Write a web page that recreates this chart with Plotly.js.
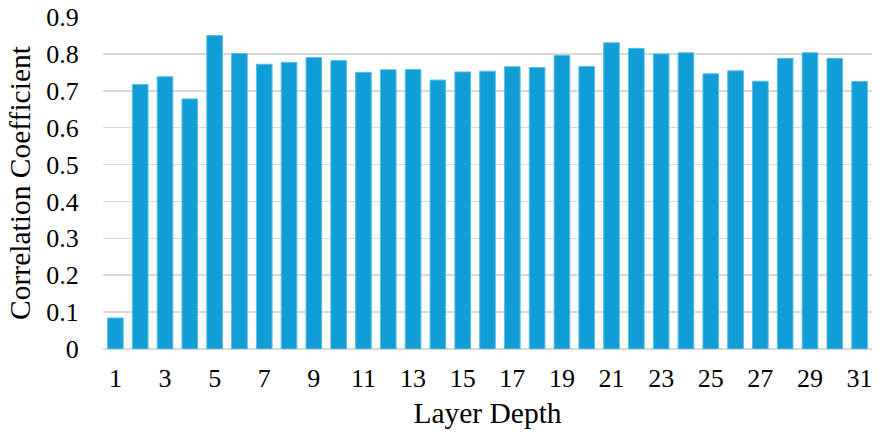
<!DOCTYPE html>
<html>
<head>
<meta charset="utf-8">
<script src="https://cdn.plot.ly/plotly-3.0.1.min.js"></script>
<style>html,body{margin:0;padding:0;background:#fff;}#chart{width:894px;height:444px;}</style>
</head>
<body>
<div id="chart"></div>
<script>
const layers = [1,2,3,4,5,6,7,8,9,10,11,12,13,14,15,16,17,18,19,20,21,22,23,24,25,26,27,28,29,30,31];
const correlation = [0.084,0.717,0.738,0.678,0.850,0.801,0.772,0.777,0.790,0.782,0.750,0.757,0.758,0.729,0.751,0.753,0.765,0.763,0.796,0.766,0.830,0.815,0.800,0.803,0.746,0.754,0.726,0.788,0.803,0.788,0.725];
const xTickVals = [1,3,5,7,9,11,13,15,17,19,21,23,25,27,29,31];
const yTickVals = [0,0.1,0.2,0.3,0.4,0.5,0.6,0.7,0.8,0.9];
const yTickText = ['0','0.1','0.2','0.3','0.4','0.5','0.6','0.7','0.8','0.9'];

const font = 'Liberation Serif';
Plotly.newPlot('chart', [{
  type: 'bar',
  x: layers,
  y: correlation,
  marker: {color: '#119ed6', line: {color: '#5bbde3', width: 1}},
  hoverinfo: 'skip'
}], {
  width: 894, height: 444,
  margin: {l: 103, r: 22, t: 16.5, b: 94.5},
  paper_bgcolor: '#fff', plot_bgcolor: '#fff',
  bargap: 0.37,
  showlegend: false,
  font: {family: font, color: '#000', size: 24},
  xaxis: {
    range: [0.5, 31.5],
    tickmode: 'array', tickvals: xTickVals, ticktext: xTickVals.map(String),
    showgrid: false, zeroline: false, showline: false,
    ticks: 'outside', ticklen: 6, tickcolor: 'rgba(0,0,0,0)',
    tickfont: {family: font, size: 26, color: '#000'},
    title: {text: 'Layer Depth', font: {family: font, size: 29.5, color: '#000'}, standoff: 10}
  },
  yaxis: {
    range: [0, 0.9],
    tickmode: 'array', tickvals: yTickVals, ticktext: yTickText,
    showgrid: true, gridcolor: '#d9d9d9', gridwidth: 1.5,
    zeroline: true, zerolinecolor: '#d9d9d9', zerolinewidth: 1.5,
    showline: false,
    ticks: 'outside', ticklen: 18, tickcolor: 'rgba(0,0,0,0)',
    tickfont: {family: font, size: 26, color: '#000'},
    title: {text: 'Correlation Coefficient', font: {family: font, size: 29.5, color: '#000'}, standoff: 6}
  }
}, {staticPlot: true, displayModeBar: false});
</script>
</body>
</html>
